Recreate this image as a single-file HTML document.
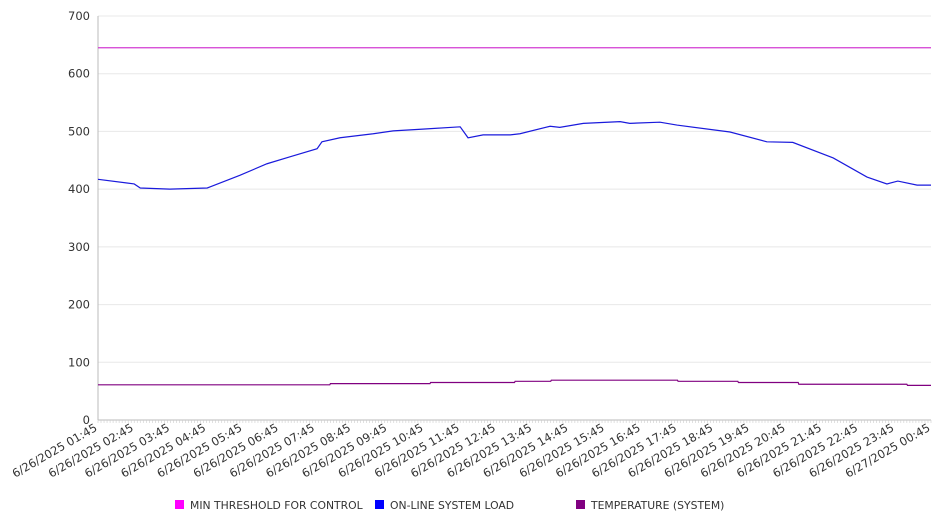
<!DOCTYPE html>
<html><head><meta charset="utf-8"><style>
body{margin:0;background:#fff;font-family:"DejaVu Sans","Liberation Sans",sans-serif}
svg text{font-family:"DejaVu Sans","Liberation Sans",sans-serif;fill:#333}
</style></head><body>
<svg id="chart" width="946" height="526" viewBox="0 0 946 526" xmlns="http://www.w3.org/2000/svg"></svg>
<script>
const yTicks=[0,100,200,300,400,500,600,700];
const xLabels=["6/26/2025 01:45","6/26/2025 02:45","6/26/2025 03:45","6/26/2025 04:45","6/26/2025 05:45","6/26/2025 06:45","6/26/2025 07:45","6/26/2025 08:45","6/26/2025 09:45","6/26/2025 10:45","6/26/2025 11:45","6/26/2025 12:45","6/26/2025 13:45","6/26/2025 14:45","6/26/2025 15:45","6/26/2025 16:45","6/26/2025 17:45","6/26/2025 18:45","6/26/2025 19:45","6/26/2025 20:45","6/26/2025 21:45","6/26/2025 22:45","6/26/2025 23:45","6/27/2025 00:45"];
const loadMinutes=[0,60,70,119,181,186,235,280,318,363,371,401,456,489,538,600,613,638,683,699,749,765,804,865,881,931,959,1047,1108,1151,1218,1274,1307,1325,1357,1380];
const loadValues=[417,409,402,400,402,404,424,444,456,470,482,489,496,501,504,508,489,494,494,496,509,507,514,517,514,516,511,499,482,481,454,421,409,414,407,407];
const tempMinutes=[0,384,385,550,551,690,691,750,751,960,961,1060,1061,1160,1161,1340,1341,1380];
const tempValues=[61,61,63,63,65,65,67,67,69,69,67,67,65,65,62,62,60,60];
const thresholdValue=645;
const X0=98,X1=931,Y0=420,Y1=16,TMAX=1380,VMAX=700;
const xs=m=>X0+m/TMAX*(X1-X0);
const ys=v=>Y0-v/VMAX*(Y0-Y1);
const svg=document.getElementById('chart');
const NS='http://www.w3.org/2000/svg';
function mk(t,a,p){const e=document.createElementNS(NS,t);for(const k in a)e.setAttribute(k,a[k]);(p||svg).appendChild(e);return e;}
yTicks.forEach(v=>{
  const g=mk('line',{x1:X0,x2:X1,y1:ys(v),y2:ys(v),stroke:v===0?'#bbb':'#e8e8e8','stroke-width':1});
  
  
  const t=mk('text',{x:90,y:ys(v)+4,'text-anchor':'end','font-size':11.5});
  t.textContent=v;
  
  
});
const ax=mk('line',{x1:X0,x2:X0,y1:Y1,y2:Y0,stroke:'#bbb'});


for(let m=0;m<=TMAX;m+=5){const l=mk('line',{x1:xs(m),x2:xs(m),y1:Y0,y2:Y0+3,stroke:'#ccc','stroke-width':0.6});
  
  }
xLabels.forEach((s,i)=>{
  const x=xs(i*60);
  const t=mk('text',{x:x,y:Y0+10,'text-anchor':'end','font-size':11.5,transform:`rotate(-30 ${x} ${Y0+10})`});
  t.textContent=s;
  
  
});
const th=mk('line',{x1:X0,x2:X1,y1:ys(thresholdValue),y2:ys(thresholdValue),stroke:'#d23cd2','stroke-width':1.2});


const lp=mk('polyline',{points:loadMinutes.map((m,i)=>xs(m)+','+ys(loadValues[i])).join(' '),fill:'none',stroke:'#1a1adc','stroke-width':1.2});


const tp=mk('polyline',{points:tempMinutes.map((m,i)=>xs(m)+','+ys(tempValues[i])).join(' '),fill:'none',stroke:'#800080','stroke-width':1.2});


[['MIN THRESHOLD FOR CONTROL','#ff00ff',175],['ON-LINE SYSTEM LOAD','#0000ff',375],['TEMPERATURE (SYSTEM)','#800080',576]].forEach(([n,c,x])=>{
  const g=mk('g',{});
  
  
  mk('rect',{x:x,y:500,width:9,height:9,fill:c},g);
  const t=mk('text',{x:x+15,y:509,'font-size':10.8},g);
  t.textContent=n;
});
</script>
</body></html>
